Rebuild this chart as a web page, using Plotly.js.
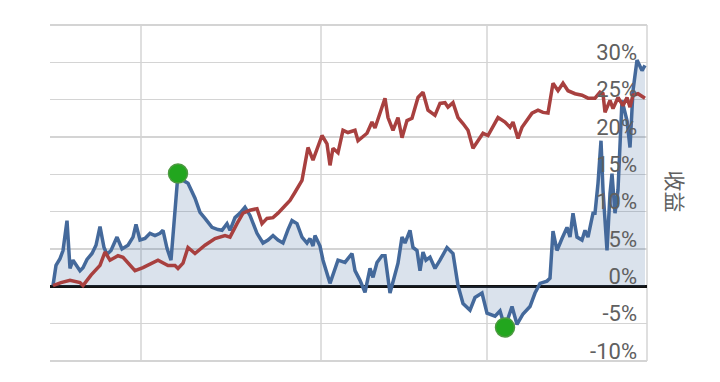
<!DOCTYPE html>
<html>
<head>
<meta charset="utf-8">
<script src="https://cdn.plot.ly/plotly-3.0.1.min.js"></script>
<style>
html,body{margin:0;padding:0;background:#fff;}
#chart{width:720px;height:382px;}
</style>
</head>
<body>
<div id="chart"></div>
<script>
// Trading day index and cumulative return (%)
const blueDays = [3,6,10,13,17,20,23,26,30,33,37,42,46,50,54,57,61,67,72,78,83,86,90,95,100,105,110,113,117,121,128,133,138,145,150,155,162,168,172,177,180,185,190,195,200,207,213,218,223,228,233,238,242,247,252,257,260,263,265,270,273,280,288,295,302,305,310,315,320,323,327,332,335,340,348,352,355,360,363,367,370,373,376,380,385,390,397,403,408,413,420,425,432,437,445,450,455,462,467,473,480,485,490,497,500,503,507,512,517,520,523,527,532,535,538,543,545,548,551,553,557,560,562,565,568,572,577,580,583,587,592,595];
const blueValues = [0.1,2.8,3.7,4.8,8.8,2.4,3.5,2.8,2.1,2.5,3.6,4.4,5.5,8.0,5.2,4.3,4.8,6.6,5.0,5.5,6.6,8.3,6.2,6.4,7.1,6.8,7.1,7.5,5.1,3.5,15.1,14.2,13.8,11.8,9.9,9.1,7.9,7.6,7.5,8.4,7.5,9.2,9.8,10.6,9.5,7.1,5.8,6.2,6.8,6.2,5.8,7.6,8.8,8.4,6.6,5.8,6.4,5.4,6.8,5.4,3.5,0.4,3.5,3.2,4.4,2.1,0.8,-0.8,2.4,1.2,3.2,4.1,4.1,-0.9,3.1,6.6,5.8,7.5,5.2,4.8,2.1,4.6,3.5,3.9,2.4,3.5,5.2,4.4,0.1,-2.3,-3.2,-1.5,-0.9,-3.6,-4.0,-3.3,-5.5,-2.7,-5.1,-3.7,-2.7,-0.9,0.4,0.7,1.1,7.4,4.8,6.4,7.9,6.6,9.8,6.6,6.2,7.5,6.6,9.8,9.8,13.8,19.5,12.9,4.8,12.4,15.1,9.8,12.9,24.9,22.2,18.6,26.2,30.3,28.9,29.6];

const redDays = [3,11,20,30,33,41,50,55,60,68,73,78,85,93,101,108,118,125,128,133,138,145,155,165,175,180,187,193,200,207,212,217,223,228,235,240,245,252,258,263,272,277,280,283,288,293,298,305,308,317,322,325,335,338,343,348,352,357,362,368,373,378,385,390,395,398,403,408,413,418,423,427,433,438,443,448,455,460,463,468,472,477,482,488,493,498,503,508,513,518,525,532,538,545,550,553,555,560,563,568,573,577,580,583,588,595];
const redValues = [0.1,0.5,0.8,0.5,0.1,1.5,2.8,4.6,3.5,4.1,3.9,3.1,2.1,2.5,3.1,3.5,2.8,2.8,2.4,3.1,5.2,4.4,5.5,6.4,6.8,6.6,8.4,9.8,10.2,10.4,8.4,9.1,9.2,9.8,10.8,11.5,12.6,14.2,18.6,16.9,20.2,19.1,16.2,18.5,17.9,20.9,20.6,20.9,19.5,20.5,22.0,21.2,25.2,22.6,20.9,22.6,19.9,22.2,22.5,25.3,26.0,23.6,22.9,24.5,24.6,24.0,24.6,22.6,21.8,20.9,18.5,19.3,20.5,20.2,21.3,22.6,22.0,21.3,22.0,19.8,21.3,22.2,23.2,23.6,23.3,23.2,27.2,26.2,27.2,26.2,25.8,25.6,25.2,25.2,26.0,25.8,23.3,24.9,23.8,25.3,24.2,25.3,24.0,25.6,25.8,25.2];

const extremeDays = [128, 455];
const extremeValues = [15.1, -5.5];

const gridDays = [91, 271, 437];
const yTickVals = [-10,-5,0,5,10,15,20,25,30,35];
const yTickText = ['-10%','-5%','0%','5%','10%','15%','20%','25%','30%',''];
const yTitle = '收益';
const yMin = -10, yMax = 35;

const traces = [
  {
    x: blueDays, y: blueValues, type: 'scatter', mode: 'lines',
    fill: 'tozeroy', fillcolor: 'rgba(69,110,160,0.2)',
    line: {color: '#44699b', width: 3.5}, hoverinfo: 'skip'
  },
  {
    x: redDays, y: redValues, type: 'scatter', mode: 'lines',
    line: {color: '#a8403f', width: 3.5}, hoverinfo: 'skip'
  },
  {
    x: extremeDays, y: extremeValues, type: 'scatter', mode: 'markers',
    marker: {color: '#22a61e', size: 19, line: {color: '#4c9a40', width: 1.5}},
    hoverinfo: 'skip'
  }
];

const gridStyle = {color: '#d4d4d4', width: 1.5};
const shapes = gridDays.map(d => ({
  type: 'line', xref: 'x', yref: 'y', x0: d, x1: d, y0: yMin, y1: yMax,
  line: gridStyle, layer: 'below'
}));
shapes.push({
  type: 'line', xref: 'paper', yref: 'y', x0: 1, x1: 1, y0: yMin, y1: yMax,
  line: gridStyle, layer: 'below'
});

const layout = {
  width: 720, height: 382,
  margin: {l: 50, r: 73, t: 23, b: 16},
  paper_bgcolor: '#ffffff', plot_bgcolor: '#ffffff',
  showlegend: false,
  font: {family: 'Roboto, "Noto Sans", sans-serif', color: '#606060'},
  xaxis: {
    range: [0, 597], showticklabels: false, ticks: '',
    showgrid: false, zeroline: false, showline: false, fixedrange: true
  },
  yaxis: {
    side: 'right', range: [-10.67, 35.27], tickvals: yTickVals, ticktext: yTickText,
    ticklabelposition: 'inside', ticklabelshift: -10, ticklabelstandoff: 7, ticks: '',
    tickfont: {size: 22, color: '#606060'},
    showgrid: true, gridcolor: '#d4d4d4', gridwidth: 1.5,
    zeroline: true, zerolinecolor: '#111111', zerolinewidth: 2.5,
    showline: false, fixedrange: true
  },
  shapes: shapes,
  annotations: [{
    text: yTitle, xref: 'paper', yref: 'paper', x: 1.048, y: 0.51,
    xanchor: 'center', yanchor: 'middle', showarrow: false, textangle: 90,
    font: {size: 21, color: '#606060', family: '"Noto Sans CJK SC", sans-serif'}
  }]
};

Plotly.newPlot('chart', traces, layout, {displayModeBar: false, staticPlot: true});
</script>
</body>
</html>
